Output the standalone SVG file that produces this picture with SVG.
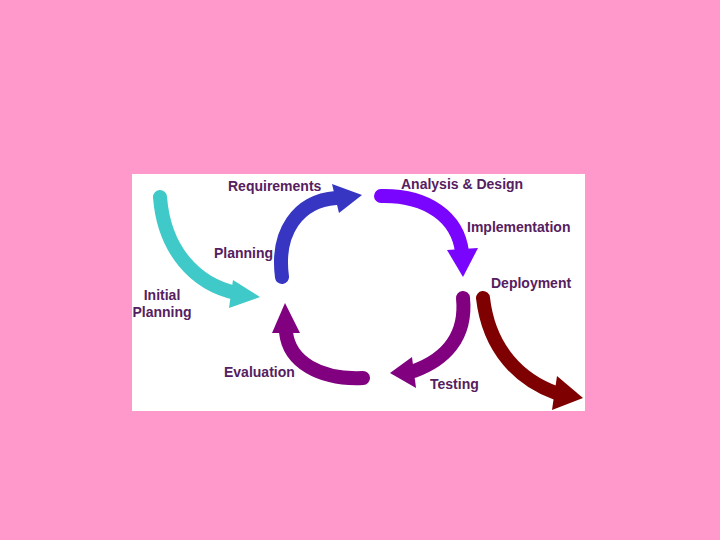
<svg xmlns="http://www.w3.org/2000/svg" width="720" height="540" viewBox="0 0 720 540">
<style>
.lbl{font-family:"Liberation Sans",Arial,sans-serif;font-weight:bold;font-size:14px;fill:#55205f}
.shaft{fill:none;stroke-width:14;stroke-linecap:round}
</style>
<rect x="0" y="0" width="720" height="540" fill="#ff99cc"/>
<rect x="132" y="174" width="453" height="237" fill="#ffffff"/>
<g id="connectors">
  <g id="arrow-initial">
    <path class="shaft" stroke="#3fc9c8" d="M160,197 C164,250 195,284 236,293"/>
    <polygon fill="#3fc9c8" points="233,280 260,297 229,308"/>
  </g>
  <g id="arrow-planning">
    <path class="shaft" stroke="#3636c2" d="M282,277 C276,232 298,201 336,198"/>
    <polygon fill="#3636c2" points="332,184 362,195 339,213"/>
  </g>
  <g id="arrow-analysis">
    <path class="shaft" stroke="#7a05ff" d="M381,196 C428,195 458,218 462,252"/>
    <polygon fill="#7a05ff" points="447,250 478,248 463,277"/>
  </g>
  <g id="arrow-testing">
    <path class="shaft" stroke="#800080" d="M463,298 C467,338 444,360 414,371"/>
    <polygon fill="#800080" points="412,357 390,373 416,388"/>
  </g>
  <g id="arrow-evaluation">
    <path class="shaft" stroke="#800080" d="M363,378 C320,380 289,362 286,332"/>
    <polygon fill="#800080" points="272,333 285,303 300,333"/>
  </g>
  <g id="arrow-deployment">
    <path class="shaft" stroke="#7f0000" d="M483,298 C489,350 520,380 556,393"/>
    <polygon fill="#7f0000" points="557,376 583,398 552,410"/>
  </g>
</g>
<g id="node-requirements"><text class="lbl" x="228" y="191">Requirements</text></g>
<g id="node-analysis"><text class="lbl" x="401" y="189">Analysis &amp; Design</text></g>
<g id="node-implementation"><text class="lbl" x="467" y="232">Implementation</text></g>
<g id="node-planning"><text class="lbl" x="214" y="258">Planning</text></g>
<g id="node-deployment"><text class="lbl" x="491" y="288">Deployment</text></g>
<g id="node-initial"><text class="lbl" x="162" y="300" text-anchor="middle">Initial</text><text class="lbl" x="162" y="317" text-anchor="middle">Planning</text></g>
<g id="node-evaluation"><text class="lbl" x="224" y="377">Evaluation</text></g>
<g id="node-testing"><text class="lbl" x="430" y="389">Testing</text></g>
</svg>
